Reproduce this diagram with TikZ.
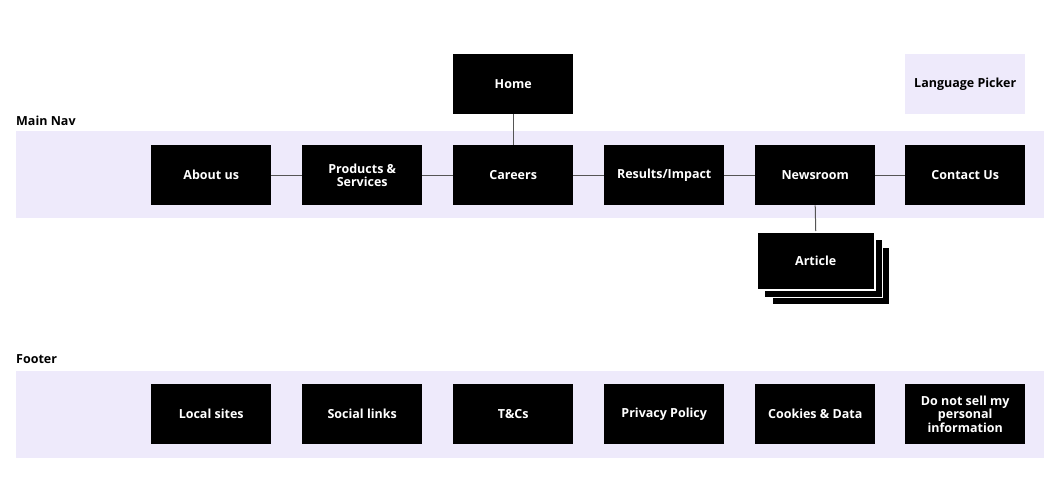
\documentclass[tikz,border=0pt]{standalone}
\usepackage{fontspec}
\setmainfont{Open Sans}
\definecolor{band}{HTML}{EEEAFB}
\definecolor{conn}{HTML}{555555}
\begin{document}
\begin{tikzpicture}[x=1pt,y=-1pt,
  fnt/.style={font=\fontsize{12.5}{13.5}\selectfont\bfseries},
  pbox/.style={fnt,fill=black,text=white,minimum width=120pt,minimum height=60pt,inner sep=2pt,align=center,anchor=north west},
  lbox/.style={pbox,fill=band,text=black},
  stk/.style={fill=black,draw=white,line width=1.5pt,minimum width=118pt,minimum height=58pt,anchor=north west,inner sep=0pt},
  band/.style={fill=band,draw=none},
  lab/.style={fnt,anchor=base west,inner sep=0pt},
  conn/.style={draw=conn,line width=1pt}]
\useasboundingbox[fill=white] (0,0) rectangle (1064,479);
\fill[band] (16,131) rectangle (1044,218);
\fill[band] (16,371) rectangle (1044,458);
\node[lab] (mainnav) at (16,125) {Main Nav};
\node[lab] (footer) at (16,363) {Footer};
% main nav
\node[pbox] (home) at (453,54) {Home};
\node[lbox] (lang) at (905,54) {Language Picker};
\node[pbox] (about) at (151,145) {About us};
\node[pbox] (prod) at (302,145) {Products \&\\Services};
\node[pbox] (careers) at (453,145) {Careers};
\node[pbox] (results) at (604,145) {Results/Impact};
\node[pbox] (news) at (755,145) {Newsroom};
\node[pbox] (contact) at (905,145) {Contact Us};
% article stack
\node[stk] (art3) at (771,246) {};
\node[stk] (art2) at (763.5,238.5) {};
\node[stk,text=white,fnt] (art) at (756,231) {Article};
% connectors
\draw[conn] (about) -- (prod);
\draw[conn] (prod) -- (careers);
\draw[conn] (careers) -- (results);
\draw[conn] (results) -- (news);
\draw[conn] (news) -- (contact);
\draw[conn] (home) -- (careers);
\draw[conn] (news.south) -- (art.north);
% footer
\node[pbox] (local) at (151,384) {Local sites};
\node[pbox] (social) at (302,384) {Social links};
\node[pbox] (tcs) at (453,384) {T\&Cs};
\node[pbox] (privacy) at (604,384) {Privacy Policy};
\node[pbox] (cookies) at (755,384) {Cookies \& Data};
\node[pbox] (dns) at (905,384) {Do not sell my\\personal\\information};
\end{tikzpicture}
\end{document}
